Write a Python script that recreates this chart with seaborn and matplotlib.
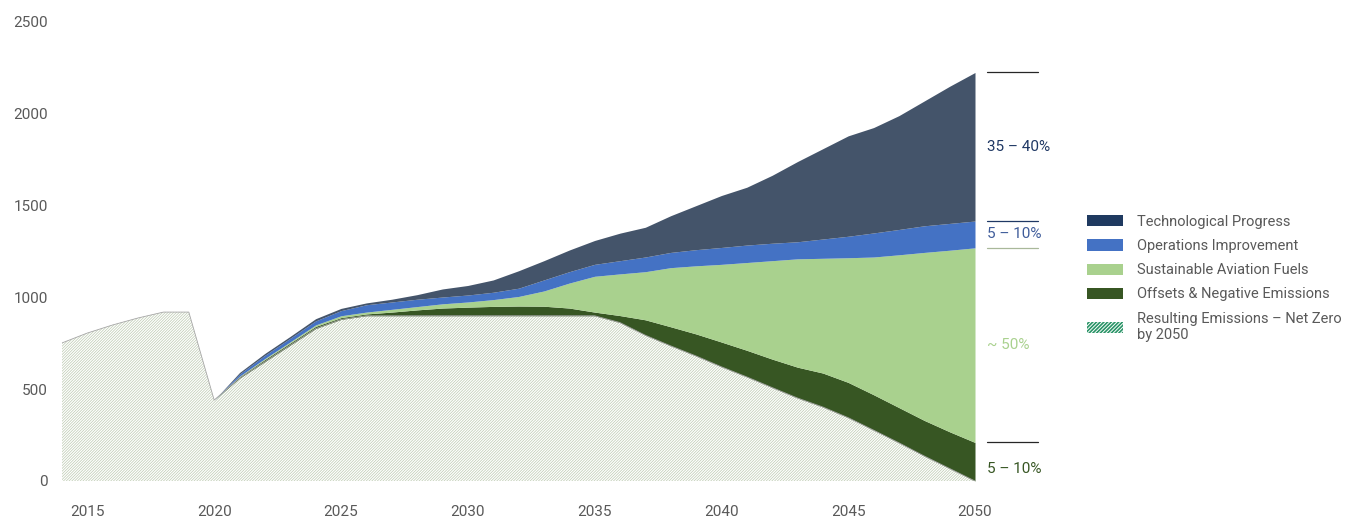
import matplotlib
matplotlib.use("Agg")
import pandas as pd
import seaborn as sns
import matplotlib.pyplot as plt
from matplotlib.patches import Patch

years = list(range(2014, 2051))

# stacked layers, bottom to top
resulting = [752, 806, 850, 888, 920, 920, 441, 560, 650, 740, 830, 880,
             900, 900, 900, 900, 900, 900, 900, 900, 900, 900,
             863, 794, 736, 681, 622, 567, 509, 452, 403, 345, 277, 208, 136, 68, 0]
offsets = [0, 0, 0, 0, 0, 0, 0, 8, 12, 12, 12, 10,
           10, 20, 32, 42, 47, 51, 53, 52, 42, 20,
           38, 84, 104, 120, 135, 145, 155, 168, 185, 192, 193, 192, 194, 200, 210]
saf = [0, 0, 0, 0, 0, 0, 0, 3, 5, 6, 8, 10,
       10, 15, 18, 23, 28, 37, 52, 83, 136, 195,
       227, 262, 322, 371, 423, 478, 536, 590, 625, 679, 750, 832, 915, 989, 1060]
operations = [0, 0, 0, 0, 0, 0, 0, 12, 18, 20, 22, 28,
              40, 40, 40, 37, 38, 40, 45, 60, 62, 65,
              72, 80, 83, 88, 92, 95, 95, 93, 105, 117, 131, 138, 145, 146, 146]
technology = [0, 0, 0, 0, 0, 0, 0, 8, 10, 10, 12, 12,
              10, 15, 25, 44, 52, 67, 95, 105, 118, 130,
              150, 162, 200, 240, 283, 315, 370, 437, 492, 547, 574, 620, 680, 747, 809]

labels = ["Technological Progress", "Operations Improvement", "Sustainable Aviation Fuels",
          "Offsets & Negative Emissions", "Resulting Emissions \u2013 Net Zero\nby 2050"]
share_labels = ["35 \u2013 40%", "5 \u2013 10%", "~ 50%", "5 \u2013 10%"]

df = pd.DataFrame({"year": years, "resulting": resulting, "offsets": offsets,
                   "saf": saf, "operations": operations, "technology": technology})

sns.set_theme(style="white")
plt.rcParams["font.family"] = ["Roboto", "DejaVu Sans"]
plt.rcParams["hatch.linewidth"] = 0.5

fig = plt.figure(figsize=(13.46, 5.30), dpi=100)
ax = fig.add_axes([62 / 1346, 1 - 481 / 530, 913 / 1346, 459 / 530])

area_colors = ["white", "#375623", "#a9d18e", "#4472c4", "#44546a"]
polys = ax.stackplot(df["year"], df["resulting"], df["offsets"], df["saf"],
                     df["operations"], df["technology"], colors=area_colors, linewidth=0)
polys[0].set_hatch("/" * 12)
polys[0].set_edgecolor("#bccab0")
polys[0].set_linewidth(0)

sns.lineplot(x=df["year"], y=df["resulting"], color="#a6a6a6", lw=0.6, ax=ax)

ax.set_xlim(years[0], years[-1])
ax.set_ylim(0, 2500)
ax.set_xticks(range(2015, 2051, 5))
ax.set_yticks(range(0, 2501, 500))
ax.set_xlabel("")
ax.set_ylabel("")
ax.tick_params(axis="both", length=0, labelsize=11, labelcolor="#595959")
ax.tick_params(axis="y", pad=10)
ax.tick_params(axis="x", pad=17)
sns.despine(ax=ax, left=True, bottom=True)

# share brackets on the right of 2050
c1 = resulting[-1] + offsets[-1]
c2 = c1 + saf[-1]
c3 = c2 + operations[-1]
c4 = c3 + technology[-1]
x0, x1 = years[-1] + 0.47, years[-1] + 2.5
for lvl, col in [(c4, "#262626"), (c3, "#1f3864"), (c2, "#a9b89a"), (c1, "#262626")]:
    ax.plot([x0, x1], [lvl, lvl], color=col, lw=0.9, clip_on=False)

ax.text(x0, (c3 + c4) / 2, share_labels[0], color="#1f3864", fontsize=11, va="center")
ax.text(x0, (c2 + c3) / 2, share_labels[1], color="#3f5c9a", fontsize=11, va="center")
ax.text(x0, (c1 + c2) / 2, share_labels[2], color="#a9d18e", fontsize=11, va="center")
ax.text(x0, c1 / 2, share_labels[3], color="#375623", fontsize=11, va="top")

plt.rcParams["hatch.linewidth"] = 1.2
handles = [Patch(facecolor="#1f3a60", linewidth=0),
           Patch(facecolor="#4472c4", linewidth=0),
           Patch(facecolor="#a9d18e", linewidth=0),
           Patch(facecolor="#375623", linewidth=0),
           Patch(facecolor="white", edgecolor="#2a9467", hatch="/" * 9, linewidth=0)]
leg = fig.legend(handles, labels, loc="upper left", bbox_to_anchor=(1081 / 1346, 1 - 209 / 530),
                 frameon=False, fontsize=10.5, handlelength=2.5, handleheight=0.8,
                 handletextpad=0.95, labelspacing=0.7, borderaxespad=0)
for t in leg.get_texts():
    t.set_color("#595959")

fig.savefig("out.png", dpi=100)
